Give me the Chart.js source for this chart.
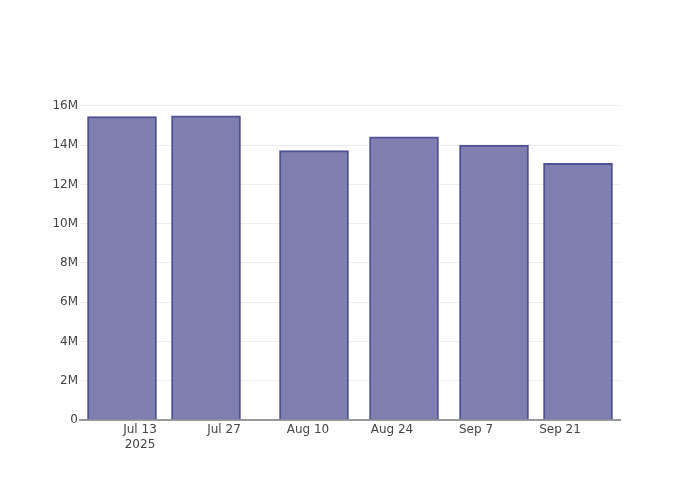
<!DOCTYPE html>
<html>
<head>
<meta charset="utf-8">
<script src="https://cdn.jsdelivr.net/npm/chart.js@4.4.0/dist/chart.umd.min.js"></script>
<style>
  html, body { margin: 0; padding: 0; background: #fff; }
  #wrap { width: 700px; height: 500px; }
</style>
</head>
<body>
<div id="wrap"><canvas id="chart" width="700" height="500"></canvas></div>
<script>
// bar dates and values
const barDates  = ['2025-07-10', '2025-07-24', '2025-08-11', '2025-08-26', '2025-09-10', '2025-09-24'];
const barValues = [15450000, 15490000, 13720000, 14420000, 14000000, 13080000];

// x ticks: one every two weeks
const tickDates  = ['2025-07-13', '2025-07-27', '2025-08-10', '2025-08-24', '2025-09-07', '2025-09-21'];
const tickLabels = [['Jul 13', '2025'], 'Jul 27', 'Aug 10', 'Aug 24', 'Sep 7', 'Sep 21'];

const xRange = ['2025-07-03', '2025-10-01'];

// days since first tick
const DAY = 86400000;
const base = Date.UTC(2025, 6, 13);
const toDay = s => { const [y, m, d] = s.split('-').map(Number); return (Date.UTC(y, m - 1, d) - base) / DAY; };

const tickDays = tickDates.map(toDay);
const FONT = { family: 'DejaVu Sans', size: 12, lineHeight: 1.25 };

new Chart(document.getElementById('chart'), {
  type: 'bar',
  data: {
    datasets: [{
      data: barDates.map((d, i) => ({ x: toDay(d), y: barValues[i] })),
      backgroundColor: 'rgb(128,128,176)',
      borderColor: 'rgb(80,80,148)',
      borderWidth: 2,
      barThickness: 69,
    }]
  },
  options: {
    responsive: false,
    animation: false,
    layout: { padding: { left: 0, right: 80, top: 101, bottom: 0 } },
    plugins: { legend: { display: false }, tooltip: { enabled: false } },
    scales: {
      x: {
        type: 'linear',
        offset: false,
        min: toDay(xRange[0]),
        max: toDay(xRange[1]),
        afterBuildTicks: s => { s.ticks = tickDays.map(v => ({ value: v })); },
        afterFit: s => { s.height = 80; },
        ticks: {
          autoSkip: false,
          maxRotation: 0,
          padding: 2,
          color: '#444',
          font: FONT,
          callback: v => tickLabels[tickDays.indexOf(v)],
        },
        grid: { display: false, drawTicks: false },
        border: { display: true, color: '#999', width: 2 },
      },
      y: {
        min: 0,
        max: 16250000,
        afterBuildTicks: s => { s.ticks = [0, 2, 4, 6, 8, 10, 12, 14, 16].map(v => ({ value: v * 1e6 })); },
        afterFit: s => { s.width = 80; },
        ticks: {
          color: '#444',
          font: FONT,
          padding: 2,
          callback: v => v === 0 ? '0' : (v / 1e6) + 'M',
        },
        grid: { color: '#eee', drawTicks: false, lineWidth: 1 },
        border: { display: false },
      }
    }
  }
});
</script>
</body>
</html>
